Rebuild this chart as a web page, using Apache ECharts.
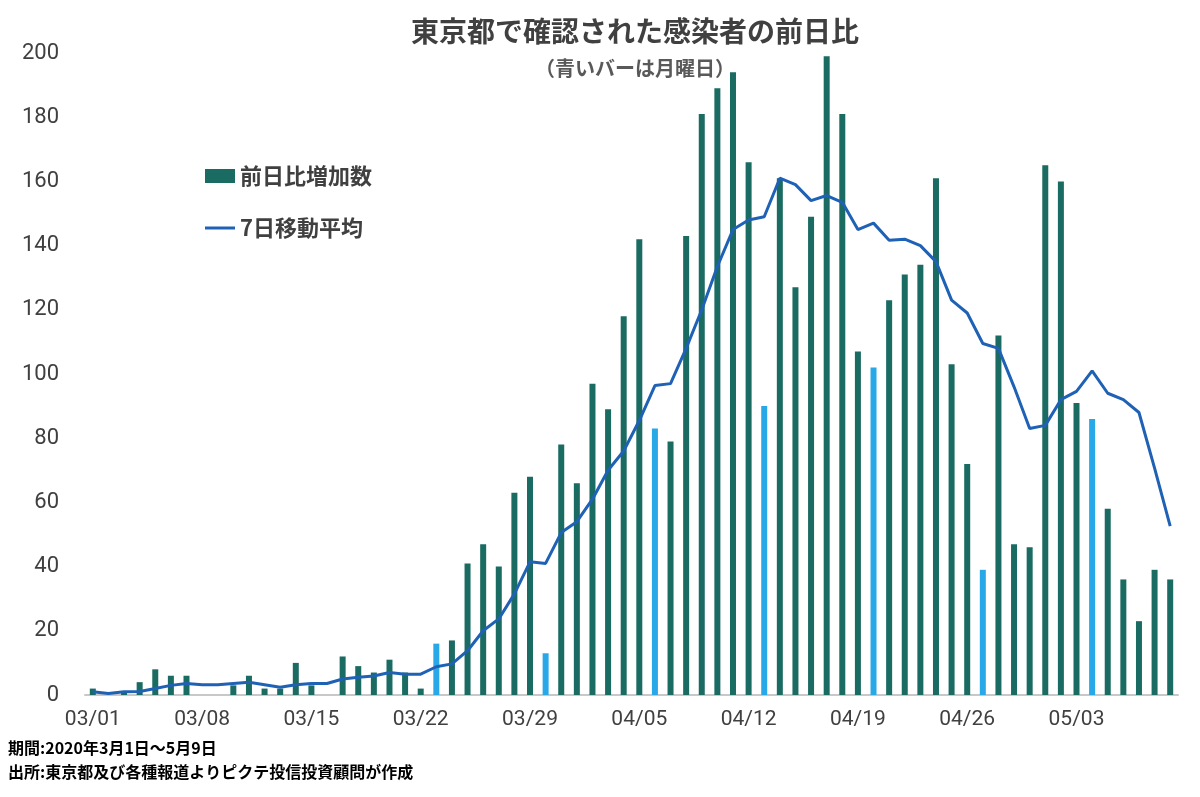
<!DOCTYPE html>
<html><head><meta charset="utf-8">
<script src="https://cdn.jsdelivr.net/npm/echarts@6/dist/echarts.min.js"></script>
<style>html,body{margin:0;padding:0;background:#fff}#c{width:1200px;height:797px}</style>
</head><body><div id="c"></div>
<script>
const categories = [];
[[3,31],[4,30],[5,9]].forEach(([m,n])=>{for(let d=1;d<=n;d++)categories.push(String(m).padStart(2,'0')+'/'+String(d).padStart(2,'0'));});
const mondays = ['03/02','03/09','03/16','03/23','03/30','04/06','04/13','04/20','04/27','05/04'];
const dailyIncrease = [2,0,1,4,8,6,6,0,0,3,6,2,2,10,3,0,12,9,7,11,7,2,16,17,41,47,40,63,68,13,78,66,97,89,118,142,83,79,143,181,189,194,166,90,161,127,149,199,181,107,102,123,131,134,161,103,72,39,112,47,46,165,160,91,86,58,36,23,39,36];
const movingAvg = [1,0.5,1,1.1,2,3,3.6,3.2,3.2,3.6,4,3.2,2.4,3.2,3.6,3.6,5,5.5,5.9,7,6.5,6.5,8.8,9.7,13.8,20,23.7,31.5,41.5,41,50.6,54,61,70,76,85.5,96.4,97,108,120,133.5,145,148,149,161,159,154,155.6,153.5,145,147,141.7,142,140,135,123,119,109.5,108,96,83,84,92,94.6,101,94,92,88,70.7,52.6];
const yTicks = [0,20,40,60,80,100,120,140,160,180,200];
const ff = '"Roboto","Noto Sans CJK JP",sans-serif';
const chart = echarts.init(document.getElementById('c'));
chart.setOption({
  animation:false,
  title:[
    {text:'東京都で確認された感染者の前日比',left:630,top:12,textAlign:'center',textStyle:{fontFamily:'"Noto Sans CJK JP"',fontSize:28,fontWeight:'bold',color:'#404040'}},
    {text:'（青いバーは月曜日）',left:630,top:53,textAlign:'center',textStyle:{fontFamily:'"Noto Sans CJK JP"',fontSize:20,fontWeight:'bold',color:'#595959'}}
  ],
  graphic:[
    {type:'text',left:8,top:740,style:{text:'期間:2020年3月1日～5月9日',font:'bold 16px "Noto Sans CJK JP"',fill:'#000'}},
    {type:'text',left:8,top:764,style:{text:'出所:東京都及び各種報道よりピクテ投信投資顧問が作成',font:'bold 16px "Noto Sans CJK JP"',fill:'#000'}}
  ],
  legend:{orient:'vertical',left:200,top:160,itemGap:30,itemWidth:30,itemHeight:14,
    textStyle:{fontFamily:'"Noto Sans CJK JP"',fontSize:22,fontWeight:'bold',color:'#404040'},
    data:[{name:'前日比増加数',icon:'rect',itemStyle:{color:'#1a6b62'}},{name:'7日移動平均',icon:'path://M0,6h30v3h-30z'}]},
  grid:{left:85,right:22,top:53,bottom:102},
  xAxis:{type:'category',data:categories,boundaryGap:true,
    axisLine:{lineStyle:{color:'#c8c8c8',width:2}},axisTick:{show:false},
    axisLabel:{interval:6,fontFamily:ff,fontSize:21,color:'#404040',margin:14}},
  yAxis:{type:'value',min:0,max:200,interval:20,splitLine:{show:false},
    axisLabel:{fontFamily:ff,fontSize:22,color:'#404040',margin:26,formatter:v=>yTicks.includes(v)?String(v):''}},
  series:[
    {name:'前日比増加数',type:'bar',barWidth:6,data:dailyIncrease,
      itemStyle:{color:p=>mondays.includes(categories[p.dataIndex])?'#29a8e8':'#1a6b62'}},
    {name:'7日移動平均',type:'line',data:movingAvg,symbol:'none',lineStyle:{color:'#1f62b5',width:3},itemStyle:{color:'#1f62b5'}}
  ]
});
</script></body></html>
